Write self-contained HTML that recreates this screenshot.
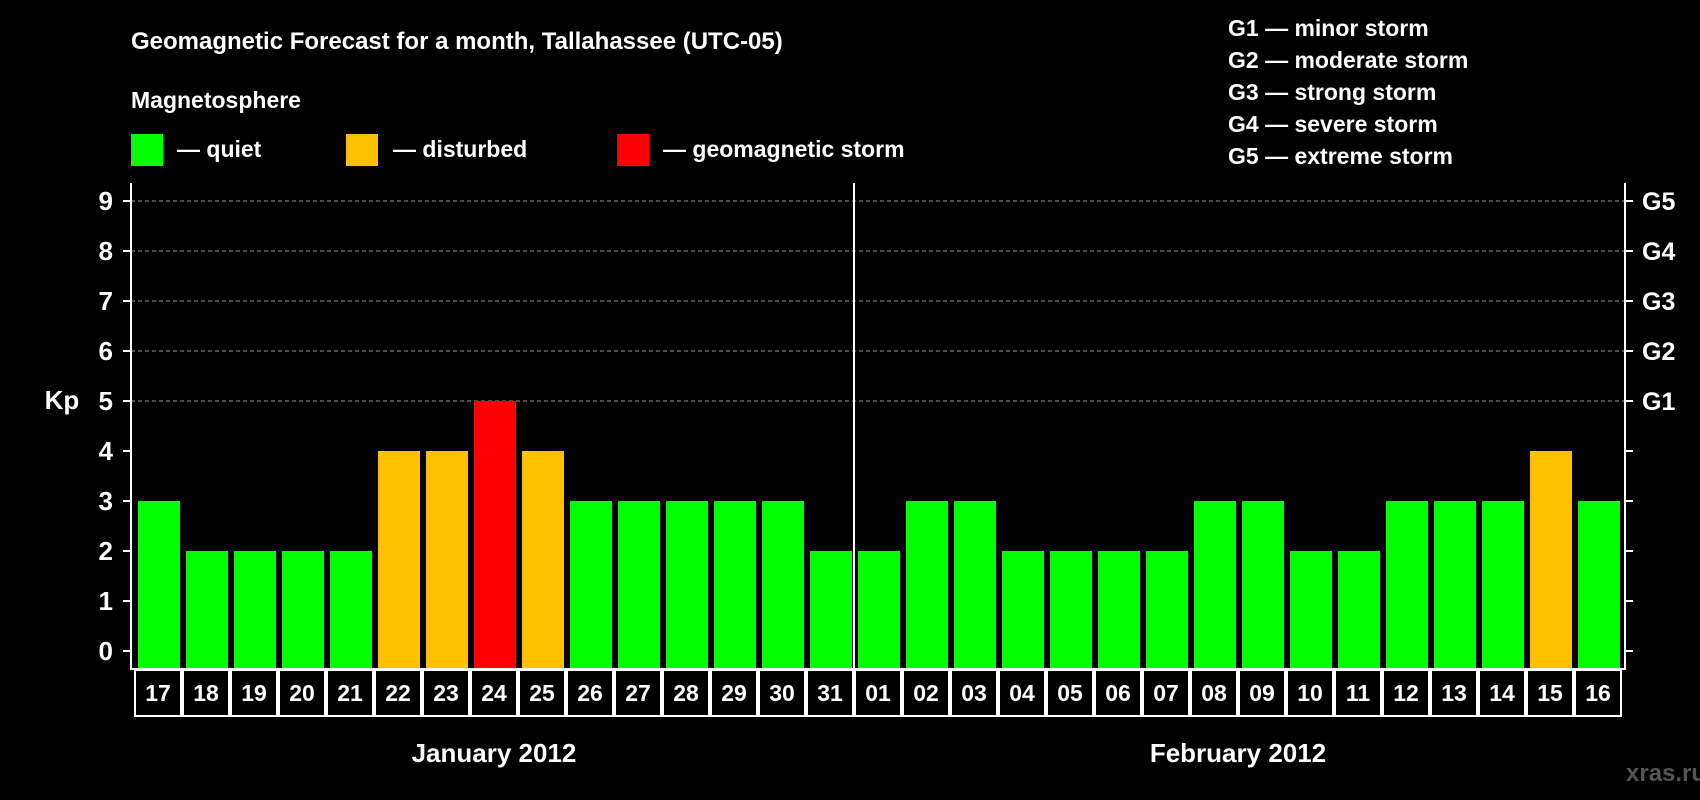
<!DOCTYPE html>
<html><head><meta charset="utf-8"><style>
html,body{margin:0;padding:0;background:#000;width:1700px;height:800px;overflow:hidden}
svg text{font-family:"Liberation Sans",Arial,sans-serif;font-weight:bold;fill:#fff}
</style></head><body>
<svg id="c" width="1700" height="800" xmlns="http://www.w3.org/2000/svg">
<text x="131" y="49" font-size="24">Geomagnetic Forecast for a month, Tallahassee (UTC-05)</text>
<text x="131" y="108" font-size="23">Magnetosphere</text>
<rect x="131" y="134" width="32" height="32" fill="#00ff00"/>
<text x="177" y="157" font-size="23">— quiet</text>
<rect x="346" y="134" width="32" height="32" fill="#ffc000"/>
<text x="393" y="157" font-size="23">— disturbed</text>
<rect x="617" y="134" width="32" height="32" fill="#ff0000"/>
<text x="663" y="157" font-size="23">— geomagnetic storm</text>
<g font-size="23">
<text x="1228" y="36">G1 — minor storm</text>
<text x="1228" y="68">G2 — moderate storm</text>
<text x="1228" y="100">G3 — strong storm</text>
<text x="1228" y="132">G4 — severe storm</text>
<text x="1228" y="164">G5 — extreme storm</text>
</g>
<text x="62" y="409" font-size="26" text-anchor="middle">Kp</text>
<text x="1626" y="781" font-size="24" fill="#555" style="fill:#555">xras.ru</text>
</svg>
<script>
const days=["17","18","19","20","21","22","23","24","25","26","27","28","29","30","31","01","02","03","04","05","06","07","08","09","10","11","12","13","14","15","16"];
const kp=[3,2,2,2,2,4,4,5,4,3,3,3,3,3,2,2,3,3,2,2,2,2,3,3,2,2,3,3,3,4,3];
const yTicks=[0,1,2,3,4,5,6,7,8,9];
const gLabels=["","","","","","G1","G2","G3","G4","G5"];
const months=["January 2012","February 2012"];
const monthDays=[15,16];
const NS="http://www.w3.org/2000/svg",svg=document.getElementById('c');
const L=131,R=1625,T=183,B=669,X0=134,SW=48;
const y=v=>651-50*v, x=i=>X0+i*SW;
function mk(t,a){const e=document.createElementNS(NS,t);for(const k in a)e.setAttribute(k,a[k]);svg.appendChild(e);return e;}
yTicks.forEach((v,i)=>{
  if(v>=5){const g=mk('line',{x1:L,x2:R,y1:y(v),y2:y(v),stroke:'#999','stroke-dasharray':'4,3','stroke-width':1});
  
  }
  const t1=mk('line',{x1:L-8,x2:L,y1:y(v),y2:y(v),stroke:'#fff','stroke-width':2});
  
  
  const t2=mk('line',{x1:R,x2:R+8,y1:y(v),y2:y(v),stroke:'#fff','stroke-width':2});
  
  
  const l=mk('text',{x:113,y:y(v)+9,'font-size':26,'text-anchor':'end'});l.textContent=v;
  
  
  if(gLabels[i]){const g=mk('text',{x:1642,y:y(v)+9,'font-size':25});g.textContent=gLabels[i];
  
  }
});
kp.forEach((v,i)=>{
  const c=v>=5?'#ff0000':v>=4?'#ffc000':'#00ff00';
  const b=mk('rect',{x:x(i)+4,y:y(v),width:42,height:668-y(v),fill:c});
  
  
  const bx=mk('rect',{x:x(i)+1,y:B+1,width:SW-2,height:46,fill:'none',stroke:'#fff','stroke-width':2});
  
  
  const t=mk('text',{x:x(i)+SW/2,y:B+32,'font-size':23,'text-anchor':'middle'});t.textContent=days[i];
  
  
});
const ax=mk('path',{d:`M${L} ${T}V${B}H${R}V${T}`,fill:'none',stroke:'#fff','stroke-width':2});


const sep=mk('line',{x1:x(monthDays[0]),x2:x(monthDays[0]),y1:T,y2:B,stroke:'#fff','stroke-width':2});


let s=0;months.forEach((m,i)=>{
  const t=mk('text',{x:x(s)+monthDays[i]*SW/2,y:762,'font-size':26,'text-anchor':'middle'});t.textContent=m;
  
  
  s+=monthDays[i];
});
</script>
</body></html>
